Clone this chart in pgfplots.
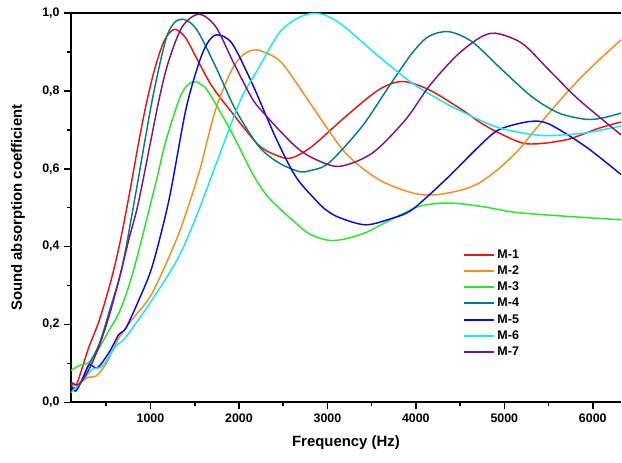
\documentclass[border=0pt]{standalone}
\usepackage{pgfplots}
\pgfplotsset{compat=1.18}
\usepackage{fontspec}
\setmainfont{Liberation Sans}
\definecolor{c1}{RGB}{235,20,20}
\definecolor{c2}{RGB}{250,140,30}
\definecolor{c3}{RGB}{40,230,40}
\definecolor{c4}{RGB}{0,128,128}
\definecolor{c5}{RGB}{10,10,225}
\definecolor{c6}{RGB}{20,235,240}
\definecolor{c7}{RGB}{128,20,135}
\pgfplotstableread{
f y
100 0.048
160 0.045
230 0.09
300 0.14
420 0.21
550 0.31
650 0.405
757 0.53
860 0.66
946 0.76
1040 0.85
1130 0.915
1200 0.945
1285 0.958
1400 0.935
1548 0.872
1700 0.81
1921 0.744
2226 0.66
2452 0.632
2600 0.628
2829 0.658
3206 0.734
3582 0.803
3845 0.824
4147 0.803
4524 0.751
4712 0.721
4938 0.692
5254 0.664
5692 0.674
6068 0.704
6320 0.72
}\mone
\pgfplotstableread{
f y
100 0.04
200 0.05
300 0.065
381 0.067
500 0.10
644 0.166
800 0.215
1020 0.281
1322 0.435
1548 0.59
1650 0.68
1755 0.765
1921 0.855
2050 0.893
2204 0.905
2452 0.879
2650 0.82
2829 0.76
3206 0.64
3582 0.572
3958 0.538
4222 0.533
4524 0.546
4712 0.563
4938 0.600
5164 0.649
5311 0.69
5550 0.755
5805 0.82
6050 0.875
6320 0.931
}\mtwo
\pgfplotstableread{
f y
100 0.082
200 0.095
305 0.103
420 0.14
531 0.185
644 0.23
757 0.30
870 0.392
1059 0.563
1172 0.67
1322 0.777
1400 0.81
1492 0.824
1580 0.815
1661 0.795
1921 0.692
2147 0.59
2302 0.535
2450 0.50
2600 0.469
2800 0.432
3017 0.416
3206 0.42
3432 0.436
3658 0.462
4034 0.503
4373 0.512
4746 0.503
5127 0.488
5692 0.478
6320 0.469
}\mthree
\pgfplotstableread{
f y
100 0.04
180 0.04
300 0.095
420 0.15
530 0.23
681 0.35
833 0.537
1020 0.777
1172 0.931
1270 0.975
1360 0.984
1450 0.975
1548 0.948
1737 0.862
1963 0.751
2226 0.657
2452 0.615
2678 0.593
2800 0.595
3017 0.615
3393 0.709
3695 0.811
3958 0.897
4147 0.94
4373 0.952
4637 0.926
4938 0.862
5311 0.785
5616 0.743
5918 0.727
6100 0.73
6320 0.743
}\mfour
\pgfplotstableread{
f y
100 0.042
155 0.029
230 0.059
305 0.097
400 0.089
531 0.128
644 0.175
720 0.19
870 0.264
1020 0.35
1209 0.52
1398 0.75
1548 0.872
1650 0.925
1755 0.944
1921 0.922
2147 0.82
2415 0.68
2641 0.58
2866 0.52
2980 0.495
3130 0.475
3432 0.456
3733 0.473
3958 0.495
4336 0.572
4712 0.657
4938 0.70
5277 0.721
5503 0.715
5918 0.657
6320 0.585
}\mfive
\pgfplotstableread{
f y
100 0.025
230 0.055
342 0.085
455 0.093
606 0.144
716 0.166
1020 0.264
1322 0.375
1548 0.495
1774 0.632
2019 0.777
2200 0.85
2452 0.948
2650 0.985
2829 0.999
3000 0.992
3206 0.962
3582 0.888
3958 0.82
4336 0.768
4712 0.726
4938 0.705
5250 0.69
5503 0.685
5918 0.692
6320 0.71
}\msix
\pgfplotstableread{
f y
100 0.052
192 0.046
305 0.085
418 0.144
531 0.221
644 0.315
757 0.42
870 0.52
1096 0.777
1209 0.879
1360 0.965
1548 0.997
1737 0.965
1925 0.879
2150 0.78
2300 0.738
2452 0.70
2650 0.655
2829 0.628
3130 0.606
3506 0.64
3883 0.726
4147 0.811
4449 0.888
4712 0.935
4900 0.948
5201 0.922
5503 0.854
5805 0.785
6068 0.734
6320 0.687
}\mseven
\begin{document}
\begin{tikzpicture}
\begin{axis}[
  scale only axis, width=413.25pt, height=292.5pt,
  xmin=100, xmax=6320, ymin=0, ymax=1,
  axis x line=box, axis y line=left,
  axis line style={-, line width=1.4pt},
  tick align=outside, xtick pos=left, ytick pos=left,
  xtick={1000,2000,3000,4000,5000,6000},
  ytick={0,0.2,0.4,0.6,0.8,1},
  minor xtick={500,1500,2500,3500,4500,5500},
  minor ytick={0.1,0.3,0.5,0.7,0.9},
  major tick length=5pt, minor tick length=3pt,
  every tick/.style={black, line width=1.2pt},
  /pgf/number format/assume math mode=true,
  tick label style={font=\bfseries\fontsize{9.3}{10}\selectfont},
  yticklabel style={/pgf/number format/.cd, fixed, fixed zerofill, precision=1, use comma},
  xticklabel style={/pgf/number format/1000 sep={}},
  xlabel={Frequency (Hz)}, ylabel={Sound absorption coefficient},
  every axis x label/.style={at={(axis description cs:0.5,-0.1026)}, anchor=center,
    font=\bfseries\fontsize{11.2}{13}\selectfont},
  every axis y label/.style={at={(axis description cs:-0.0962,0.5)}, rotate=90, anchor=center,
    font=\bfseries\fontsize{11.2}{13}\selectfont},
  legend style={draw=none, fill=none, at={(0.713,0.40)}, anchor=north west,
    inner sep=0pt, outer sep=0pt,
    font=\bfseries\fontsize{9.4}{11}\selectfont,
    nodes={inner sep=1.5pt, text height=7.2pt, text depth=2pt}},
  legend cell align=left,
  legend image code/.code={\draw[#1, line width=1.5pt] (0cm,0cm) -- (0.8cm,0cm);},
  every axis plot/.append style={line width=1.1pt, smooth, tension=0.5},
]
\addplot[c1] table[x=f,y=y]{\mone};
\addlegendentry{M-1}
\addplot[c2] table[x=f,y=y]{\mtwo};
\addlegendentry{M-2}
\addplot[c3] table[x=f,y=y]{\mthree};
\addlegendentry{M-3}
\addplot[c4] table[x=f,y=y]{\mfour};
\addlegendentry{M-4}
\addplot[c5] table[x=f,y=y]{\mfive};
\addlegendentry{M-5}
\addplot[c6] table[x=f,y=y]{\msix};
\addlegendentry{M-6}
\addplot[c7] table[x=f,y=y]{\mseven};
\addlegendentry{M-7}
\end{axis}
\path ([xshift=-53.25pt,yshift=-45pt]current axis.south west) ([yshift=9.75pt]current axis.north east);
\end{tikzpicture}
\end{document}
